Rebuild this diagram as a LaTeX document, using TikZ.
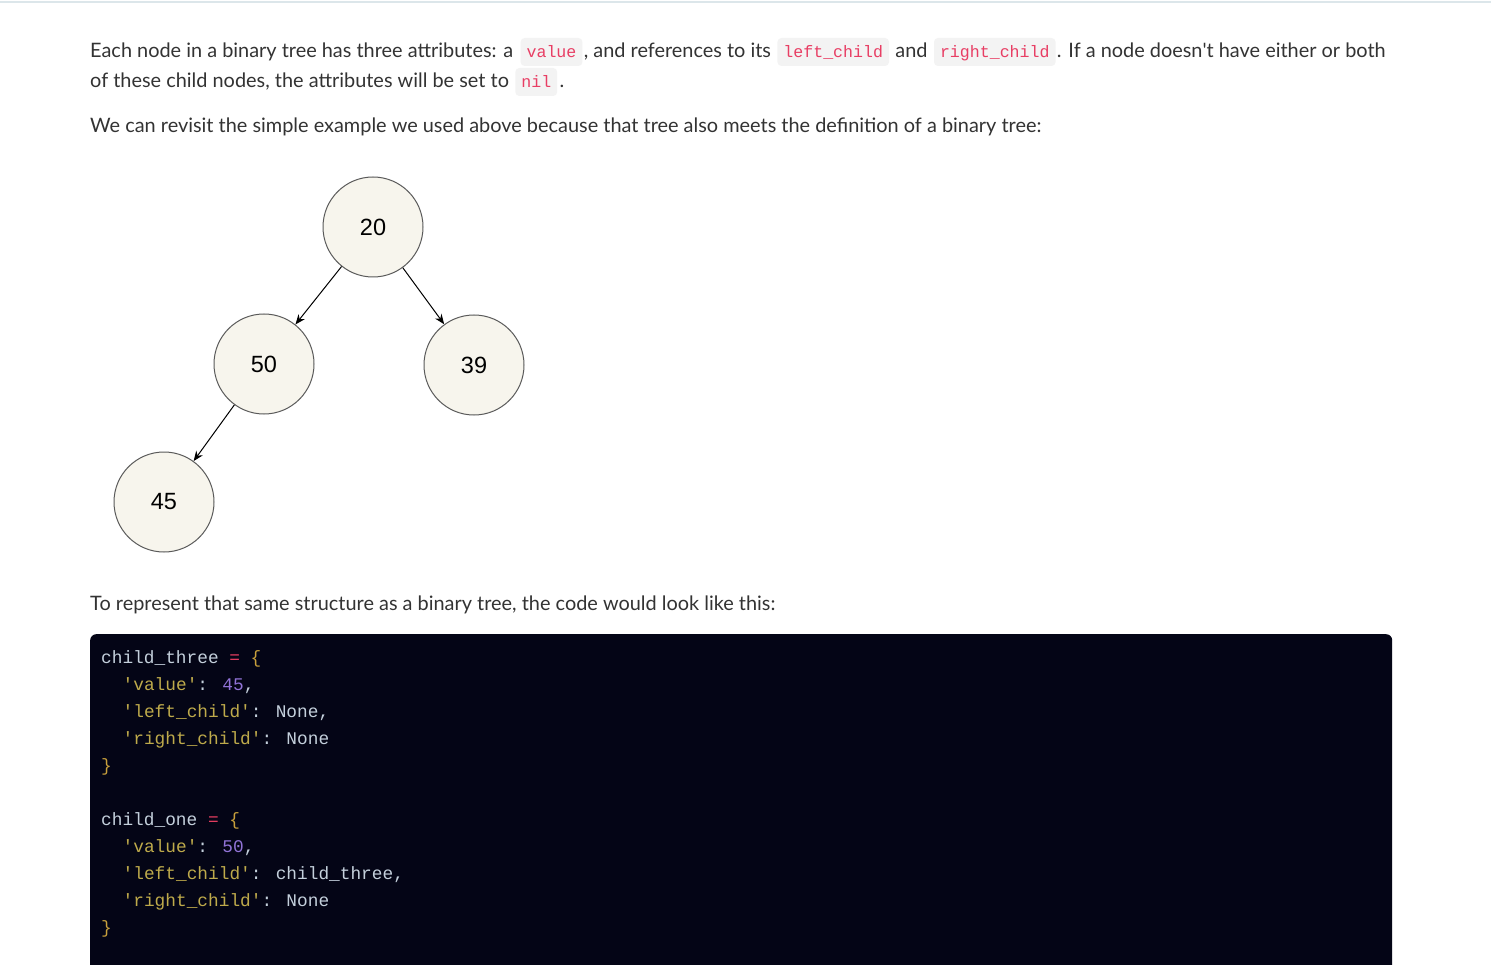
\documentclass[tikz,border=0pt]{standalone}
\usepackage{fontspec}
\setmainfont{Lato}
\newfontfamily\codefont{Liberation Mono}
\newfontfamily\numfont{Liberation Sans}
\usetikzlibrary{arrows.meta, positioning}

\definecolor{bodytext}{RGB}{51,51,51}
\definecolor{chipbg}{RGB}{243,243,243}
\definecolor{chiptext}{RGB}{232,62,100}
\definecolor{nodefill}{RGB}{247,245,237}
\definecolor{nodeline}{RGB}{90,90,90}
\definecolor{codebg}{RGB}{4,5,22}
\definecolor{codeplain}{RGB}{196,208,220}
\definecolor{codeop}{RGB}{225,60,95}
\definecolor{codebrace}{RGB}{200,160,60}
\definecolor{codestr}{RGB}{190,170,75}
\definecolor{codenum}{RGB}{145,115,215}
\definecolor{rulegray}{RGB}{220,230,234}

\newcommand{\kstr}[1]{\textcolor{codestr}{\textquotesingle#1\textquotesingle}}
\newcommand{\knum}[1]{\textcolor{codenum}{#1}}
\newcommand{\kop}[1]{\textcolor{codeop}{#1}}
\newcommand{\kbr}[1]{\textcolor{codebrace}{#1}}

\begin{document}
\begin{tikzpicture}[
    x=1pt, y=-1pt,
    txt/.style={
        inner sep=0pt,
        text=bodytext,
        font=\fontsize{19.9}{24}\selectfont
    },
    chip/.style={
        fill=chipbg,
        rounded corners=4pt,
        inner xsep=6pt,
        inner ysep=4pt,
        text height=16pt,
        text depth=4pt,
        text=chiptext,
        font=\codefont\fontsize{16.6}{20}\selectfont
    },
    treenode/.style={
        circle,
        draw=nodeline,
        fill=nodefill,
        line width=1pt,
        minimum size=100pt,
        inner sep=0pt,
        font=\numfont\fontsize{23.5}{26}\selectfont
    },
    arrow/.style={
        -{Stealth[length=10pt, width=8pt]},
        line width=1pt,
        draw=black
    },
    codebox/.style={
        fill=codebg,
        rounded corners=6pt,
        anchor=north west,
        minimum width=1302pt,
        minimum height=380pt
    },
    codeline/.style={
        anchor=base west,
        inner sep=0pt,
        text=codeplain,
        font=\codefont\fontsize{17.8}{27}\selectfont
    }
]
    \useasboundingbox (0,0) rectangle (1491,965);
    \fill[white] (0,0) rectangle (1491,965);
    \draw[rulegray, line width=1.5pt] (0,2) -- (1491,2);

    % --- intro paragraph ---
    \node[txt, anchor=base west] (lineA) at (90,58) {Each node in a binary tree has three attributes: a};
    \node[chip, base right=7pt of lineA] (chipValue) {value};
    \node[txt, base right=1pt of chipValue] (lineB) {, and references to its};
    \node[chip, base right=6pt of lineB] (chipLeft) {left\_child};
    \node[txt, base right=6pt of chipLeft] (lineC) {and};
    \node[chip, base right=6pt of lineC] (chipRight) {right\_child};
    \node[txt, base right=1pt of chipRight] (lineD) {. If a node doesn\textquotesingle t have either or both};

    \node[txt, anchor=base west] (lineE) at (90,88) {of these child nodes, the attributes will be set to};
    \node[chip, base right=6pt of lineE] (chipNil) {nil};
    \node[txt, base right=2pt of chipNil] (lineF) {.};

    \node[txt, anchor=base west] (lineG) at (90,133) {We can revisit the simple example we used above because that tree also meets the definition of a binary tree:};

    % --- binary tree ---
    \node[treenode] (n20) at (373,227) {20};
    \node[treenode] (n50) at (264,364) {50};
    \node[treenode] (n39) at (474,365) {39};
    \node[treenode] (n45) at (164,502) {45};

    \draw[arrow] (n20) -- (n50);
    \draw[arrow] (n20) -- (n39);
    \draw[arrow] (n50) -- (n45);

    \node[txt, anchor=base west] (lineH) at (90,610) {To represent that same structure as a binary tree, the code would look like this:};

    % --- code block (runs past the bottom edge) ---
    \begin{scope}
        \clip (0,0) rectangle (1491,965);
        \node[codebox] (codeblock) at (90,634) {};
    \end{scope}

    \node[codeline] (code1) at (101,663) {child\_three \kop{=} \kbr{\{}};
    \node[codeline] (code2) at (122.5,690) {\kstr{value}: \knum{45},};
    \node[codeline] (code3) at (122.5,717) {\kstr{left\_child}: None,};
    \node[codeline] (code4) at (122.5,744) {\kstr{right\_child}: None};
    \node[codeline] (code5) at (101,771) {\kbr{\}}};

    \node[codeline] (code6) at (101,825) {child\_one \kop{=} \kbr{\{}};
    \node[codeline] (code7) at (122.5,852) {\kstr{value}: \knum{50},};
    \node[codeline] (code8) at (122.5,879) {\kstr{left\_child}: child\_three,};
    \node[codeline] (code9) at (122.5,906) {\kstr{right\_child}: None};
    \node[codeline] (code10) at (101,933) {\kbr{\}}};

\end{tikzpicture}
\end{document}
